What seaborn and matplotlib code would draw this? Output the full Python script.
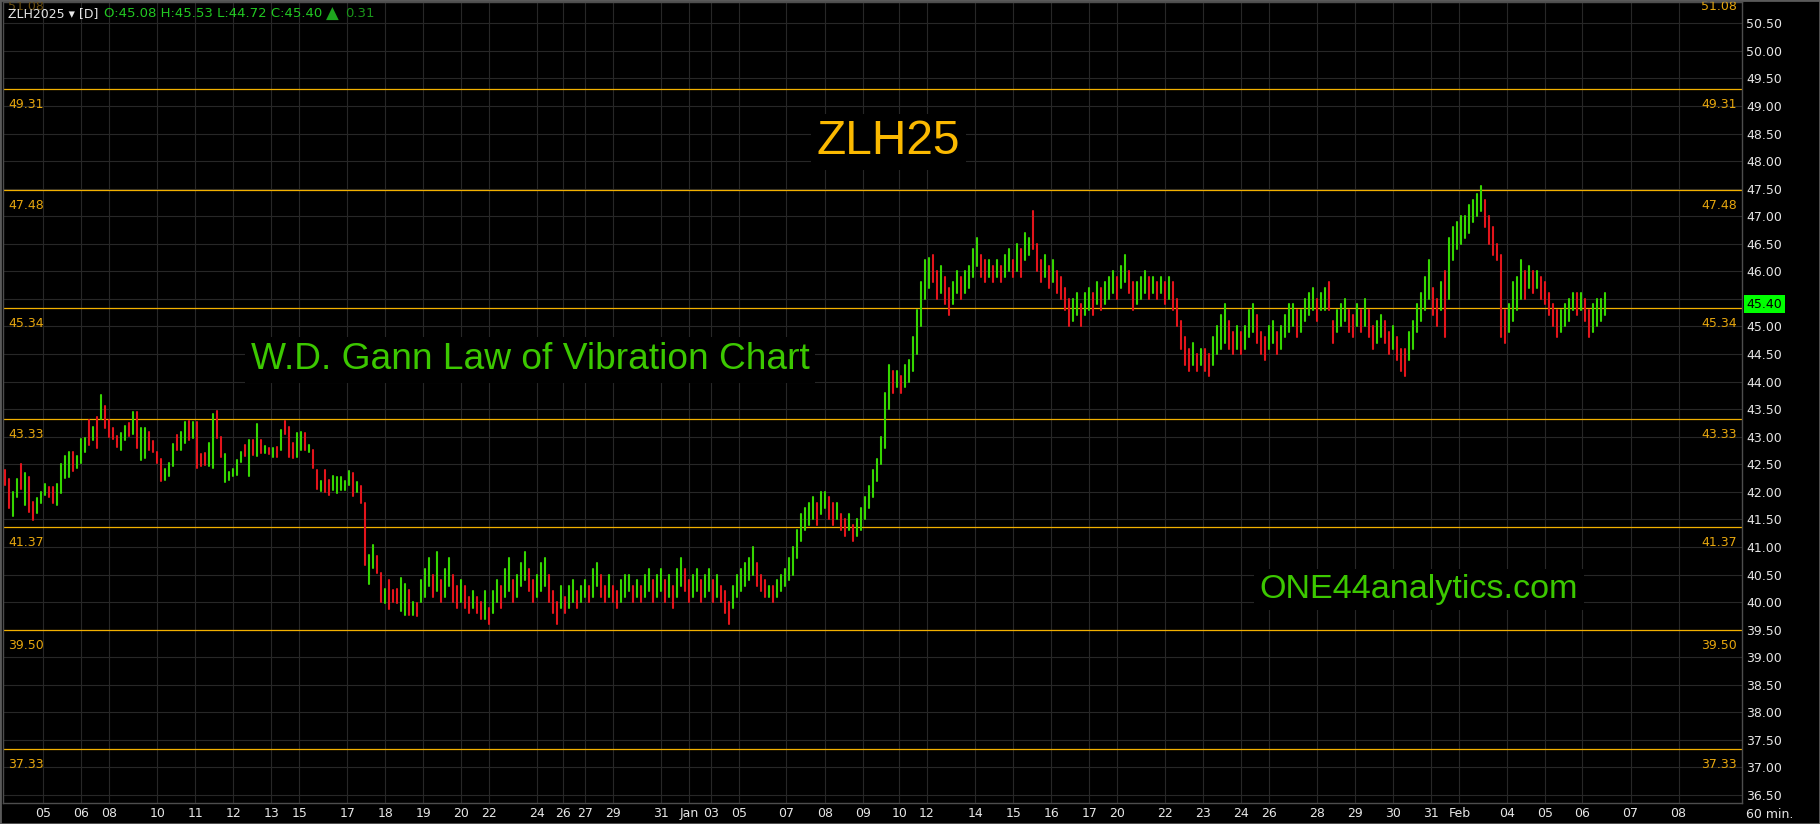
import numpy as np
import pandas as pd
import matplotlib
matplotlib.use("Agg")
import matplotlib.pyplot as plt
import matplotlib.transforms as mtrans
from matplotlib.patches import Rectangle
from matplotlib.ticker import FuncFormatter
import seaborn as sns

# 60 min bars of ZLH25 (two bars per slot), low / high / direction
bar_low = [
    42.12, 41.70, 41.57, 41.90, 42.06, 41.76, 41.64, 41.48, 41.62, 41.80,
    41.94, 41.91, 41.79, 41.76, 41.97, 42.25, 42.26, 42.37, 42.44, 42.52,
    42.73, 42.85, 42.94, 42.79, 43.33, 43.15, 43.00, 42.95, 42.82, 42.75,
    42.94, 43.01, 43.04, 42.79, 42.57, 42.61, 42.76, 42.73, 42.53, 42.19,
    42.22, 42.28, 42.46, 42.76, 42.76, 42.88, 42.94, 42.97, 42.44, 42.46,
    42.49, 42.47, 42.44, 42.97, 42.64, 42.17, 42.22, 42.28, 42.31, 42.55,
    42.65, 42.28, 42.67, 42.65, 42.71, 42.70, 42.69, 42.63, 42.64, 42.75,
    43.05, 42.64, 42.61, 42.63, 42.76, 42.76, 42.73, 42.43, 42.06, 42.02,
    42.00, 41.94, 42.03, 41.97, 42.03, 42.03, 42.12, 41.92, 42.00, 41.79,
    40.67, 40.33, 40.61, 40.52, 40.01, 39.99, 39.87, 40.01, 39.99, 39.83,
    39.77, 39.77, 39.77, 39.75, 40.0, 40.1, 40.3, 40.1, 40.2, 40.0,
    40.1, 40.3, 40.0, 39.9, 40.0, 39.9, 39.8, 39.9, 39.8, 39.7,
    39.7, 39.6, 39.8, 40.0, 39.9, 40.1, 40.2, 40.0, 40.1, 40.3,
    40.4, 40.2, 40.0, 40.1, 40.2, 40.3, 40.0, 39.8, 39.6, 39.9,
    39.8, 39.9, 40.0, 39.9, 40.0, 40.1, 40.0, 40.1, 40.3, 40.1,
    40.0, 40.1, 40.0, 39.9, 40.0, 40.1, 40.2, 40.0, 40.1, 40.0,
    40.1, 40.2, 40.0, 40.1, 40.2, 40.0, 40.1, 39.9, 40.1, 40.3,
    40.2, 40.0, 40.1, 40.2, 40.0, 40.1, 40.2, 40.0, 40.1, 40.0,
    39.8, 39.6, 39.9, 40.1, 40.2, 40.3, 40.4, 40.5, 40.3, 40.2,
    40.1, 40.1, 40.0, 40.1, 40.2, 40.3, 40.4, 40.5, 40.8, 41.1,
    41.3, 41.4, 41.5, 41.4, 41.6, 41.7, 41.5, 41.4, 41.5, 41.3,
    41.2, 41.3, 41.1, 41.2, 41.3, 41.5, 41.7, 41.9, 42.2, 42.5,
    42.8, 43.5, 43.8, 43.9, 43.8, 43.9, 44.0, 44.2, 44.5, 45.0,
    45.5, 45.7, 45.8, 45.5, 45.6, 45.4, 45.2, 45.4, 45.6, 45.5,
    45.6, 45.7, 45.9, 46.1, 45.9, 45.8, 45.9, 45.8, 45.9, 45.8,
    45.9, 46.0, 45.9, 46.0, 45.9, 46.2, 46.3, 46.4, 46.0, 45.8,
    45.9, 45.7, 45.8, 45.6, 45.5, 45.3, 45.0, 45.1, 45.2, 45.0,
    45.2, 45.3, 45.2, 45.4, 45.3, 45.4, 45.5, 45.6, 45.5, 45.7,
    45.8, 45.6, 45.3, 45.4, 45.5, 45.6, 45.5, 45.6, 45.5, 45.6,
    45.4, 45.5, 45.3, 45.0, 44.6, 44.3, 44.2, 44.3, 44.2, 44.3,
    44.2, 44.1, 44.3, 44.5, 44.6, 44.7, 44.6, 44.5, 44.6, 44.5,
    44.6, 44.8, 44.9, 44.7, 44.5, 44.4, 44.6, 44.7, 44.5, 44.6,
    44.8, 44.9, 45.0, 44.8, 44.9, 45.1, 45.2, 45.3, 45.1, 45.3,
    45.3, 45.3, 44.7, 44.9, 45.0, 45.1, 44.9, 44.8, 45.0, 44.9,
    45.0, 44.8, 44.6, 44.7, 44.8, 44.7, 44.5, 44.6, 44.4, 44.2,
    44.1, 44.4, 44.6, 44.9, 45.1, 45.3, 45.5, 45.2, 45.0, 45.3,
    44.8, 45.5, 46.2, 46.4, 46.5, 46.6, 46.7, 46.9, 47.0, 47.1,
    46.8, 46.5, 46.3, 46.2, 44.8, 44.7, 44.9, 45.1, 45.3, 45.5,
    45.5, 45.7, 45.6, 45.7, 45.5, 45.4, 45.2, 45.0, 44.8, 44.9,
    45.0, 45.1, 45.3, 45.2, 45.3, 45.1, 44.8, 44.9, 45.0, 45.1,
    45.2,
]
bar_high = [
    42.40, 42.23, 42.00, 42.23, 42.50, 42.35, 42.26, 41.82, 41.88, 42.00,
    42.15, 42.09, 42.08, 42.14, 42.50, 42.65, 42.73, 42.73, 42.65, 42.95,
    42.98, 43.30, 43.18, 43.36, 43.76, 43.56, 43.30, 43.15, 43.01, 43.07,
    43.19, 43.24, 43.44, 43.45, 43.15, 43.15, 43.09, 42.92, 42.73, 42.59,
    42.41, 42.53, 42.87, 43.03, 43.09, 43.27, 43.29, 43.26, 43.26, 42.69,
    42.71, 42.88, 43.41, 43.47, 42.99, 42.69, 42.36, 42.41, 42.58, 42.73,
    42.85, 42.94, 42.94, 43.23, 42.94, 42.83, 42.79, 42.80, 42.82, 43.12,
    43.29, 43.18, 42.88, 43.07, 43.09, 43.06, 42.85, 42.76, 42.40, 42.20,
    42.40, 42.22, 42.29, 42.26, 42.26, 42.20, 42.37, 42.34, 42.17, 42.11,
    41.80, 40.85, 41.04, 40.84, 40.52, 40.23, 40.40, 40.22, 40.23, 40.43,
    40.33, 40.22, 40.01, 39.98, 40.4, 40.6, 40.8, 40.5, 40.9, 40.4,
    40.6, 40.8, 40.5, 40.3, 40.4, 40.3, 40.1, 40.2, 40.1, 40.0,
    40.2, 39.9, 40.2, 40.4, 40.3, 40.6, 40.8, 40.4, 40.5, 40.7,
    40.9, 40.6, 40.4, 40.5, 40.7, 40.8, 40.5, 40.2, 40.0, 40.3,
    40.1, 40.3, 40.4, 40.2, 40.3, 40.4, 40.3, 40.6, 40.7, 40.5,
    40.3, 40.5, 40.3, 40.2, 40.4, 40.5, 40.5, 40.3, 40.4, 40.3,
    40.5, 40.6, 40.4, 40.5, 40.6, 40.4, 40.5, 40.3, 40.6, 40.8,
    40.6, 40.4, 40.5, 40.6, 40.4, 40.5, 40.6, 40.4, 40.5, 40.3,
    40.2, 40.0, 40.3, 40.5, 40.6, 40.7, 40.8, 41.0, 40.7, 40.5,
    40.4, 40.3, 40.3, 40.4, 40.5, 40.6, 40.8, 41.0, 41.3, 41.6,
    41.7, 41.8, 41.9, 41.8, 42.0, 42.0, 41.9, 41.8, 41.8, 41.6,
    41.5, 41.6, 41.4, 41.5, 41.7, 41.9, 42.1, 42.4, 42.6, 43.0,
    43.8, 44.3, 44.2, 44.2, 44.1, 44.3, 44.4, 44.8, 45.3, 45.8,
    46.2, 46.25, 46.3, 46.0, 46.1, 45.9, 45.7, 45.8, 46.0, 45.9,
    46.0, 46.1, 46.4, 46.6, 46.3, 46.2, 46.2, 46.1, 46.2, 46.1,
    46.3, 46.4, 46.2, 46.5, 46.4, 46.7, 46.6, 47.1, 46.5, 46.2,
    46.3, 46.1, 46.2, 46.0, 45.9, 45.7, 45.5, 45.5, 45.6, 45.4,
    45.6, 45.7, 45.6, 45.8, 45.7, 45.8, 45.9, 46.0, 45.9, 46.1,
    46.3, 46.0, 45.8, 45.8, 45.9, 46.0, 45.9, 45.9, 45.8, 45.9,
    45.8, 45.9, 45.8, 45.5, 45.1, 44.8, 44.6, 44.7, 44.5, 44.6,
    44.6, 44.5, 44.8, 45.0, 45.2, 45.4, 45.1, 44.9, 45.0, 44.9,
    45.0, 45.3, 45.4, 45.2, 44.9, 44.8, 45.0, 45.1, 44.9, 45.0,
    45.2, 45.4, 45.4, 45.3, 45.3, 45.5, 45.6, 45.7, 45.5, 45.6,
    45.7, 45.8, 45.1, 45.3, 45.4, 45.5, 45.3, 45.2, 45.4, 45.3,
    45.5, 45.3, 45.0, 45.1, 45.2, 45.1, 44.9, 45.0, 44.8, 44.6,
    44.6, 44.9, 45.1, 45.4, 45.6, 45.9, 46.2, 45.7, 45.5, 45.8,
    46.0, 46.6, 46.8, 46.9, 47.0, 47.0, 47.2, 47.3, 47.4, 47.55,
    47.3, 47.0, 46.8, 46.5, 46.3, 45.3, 45.4, 45.8, 45.9, 46.2,
    46.0, 46.1, 46.0, 46.0, 45.9, 45.8, 45.6, 45.4, 45.3, 45.3,
    45.4, 45.5, 45.6, 45.6, 45.6, 45.5, 45.3, 45.4, 45.5, 45.5,
    45.6,
]
bar_dir = (
    "rrggrgrrgg" "grrggggrgg" "grgrgrrrrg" "grgrggrrrr" "gggrggrgrr"
    "rggrrggggg" "rgrgrgrgrg" "rrrggrgrrg" "rrgggggrgr" "rggrrgrrrg"
    "grgr" "gggrgr"
    "ggrrgrrgrr" "grggrggrgg" "grrgggrrrg" "rggrggrggr" "rgrrgggrgr"
    "ggrggrgrgg" "rrggrggrgr" "rrggggggrr" "rgrggggggg" "gggrggrrgr"
    "rgrggggggg" "ggrgrggggg" "ggrrgrrggr" "ggggrrgrgr" "ggrgrggrrr"
    "grgrrrrggr" "ggrgrgggrg" "grrgggrgrg" "rgrrrrrgrg" "rrggggrrgr"
    "gggrrrggrg" "gggrggggrg" "grrgggrrgr" "grrggrrgrr" "rggggggrrg"
    "rggggggggg" "rrrrrrgggg" "rgrgrrrrrg" "gggrgrrggg" "g"
)

# day separators on the time axis, in bar slots
day_pos = [9.5, 19.1, 26.1, 38.1, 47.6, 57.1, 66.6, 73.6, 85.6, 95.1,
           104.6, 114.1, 121.1, 133.0, 139.5, 145.1, 152.0, 164.1, 171.0, 176.6,
           183.5, 195.2, 205.0, 214.5, 223.6, 230.5, 242.6, 252.1, 261.6, 271.1,
           278.1, 290.1, 299.6, 309.1, 316.1, 328.1, 337.6, 347.1, 356.6, 363.6,
           375.6, 385.1, 394.2, 406.4, 418.4]
day_labels = ["05", "06", "08", "10", "11", "12", "13", "15", "17", "18",
              "19", "20", "22", "24", "26", "27", "29", "31", "Jan", "03",
              "05", "07", "08", "09", "10", "12", "14", "15", "16", "17",
              "20", "22", "23", "24", "26", "28", "29", "30", "31", "Feb",
              "04", "05", "06", "07", "08"]

gann_levels = [51.08, 49.31, 47.48, 45.34, 43.33, 41.37, 39.50, 37.33]
last_price = 45.40
ohlc_text = "O:45.08 H:45.53 L:44.72 C:45.40"
change_text = "0.31"

W, H = 1820, 824
GREEN = "#35d600"
RED = "#e3141b"
ORANGE = "#f2b000"
LABEL_OR = "#e6a60e"
GRID = "#272727"
TXT = "#e6e6e6"

sns.set_style("dark", rc={"axes.facecolor": "black", "figure.facecolor": "black",
                          "axes.edgecolor": "#505050", "grid.color": GRID})
plt.rcParams["font.family"] = ["DejaVu Sans"]

fig = plt.figure(figsize=(W / 100, H / 100), dpi=100)
ax = fig.add_axes([3 / W, 21 / H, 1739 / W, 801 / H])


def px(x, y):
    return x / W, 1 - y / H


n = len(bar_low)
bars = pd.DataFrame({"bar": np.arange(n), "low": bar_low, "high": bar_high,
                     "dir": list(bar_dir)})
long = bars.melt(id_vars=["bar", "dir"], value_vars=["low", "high"], value_name="price")
sns.lineplot(data=long, x="bar", y="price", hue="dir", units="bar", estimator=None,
             palette={"g": GREEN, "r": RED}, legend=False, linewidth=1.5, sort=False,
             ax=ax, zorder=3)

ax.set_xlim(-0.5, 434.25)
ax.set_ylim(36.355, 50.886)
ax.set_xticks(day_pos, day_labels)
ax.set_yticks(np.arange(36.5, 50.51, 0.5))
# the last price marker sits on top of the nearest scale label
ax.yaxis.set_major_formatter(
    FuncFormatter(lambda v, p: "" if abs(v - last_price) < 0.15 else f"{v:.2f}"))
ax.yaxis.tick_right()
ax.set_xlabel("")
ax.set_ylabel("")
ax.set_axisbelow(True)
ax.grid(True, color=GRID, lw=0.8)
ax.tick_params(axis="y", length=0, pad=3, labelcolor=TXT, labelsize=9)
ax.tick_params(axis="x", length=0, pad=3, labelcolor=TXT, labelsize=9)
for s in ax.spines.values():
    s.set_color("#4d4d4d")
    s.set_linewidth(1)

# gann levels with their labels under the line on both sides
lvl_tr = mtrans.blended_transform_factory(ax.transAxes, ax.transData) + \
    mtrans.ScaledTranslation(0, -19 / 100, fig.dpi_scale_trans)
for lv in gann_levels:
    ax.axhline(lv, color=ORANGE, lw=0.9, zorder=2)
    left_col = "#6a4e10" if lv > 50.9 else LABEL_OR
    ax.text(5 / 1739, lv, f"{lv:.2f}", transform=lvl_tr, color=left_col, fontsize=9,
            ha="left", va="baseline", clip_on=False)
    ax.text(1734 / 1739, lv, f"{lv:.2f}", transform=lvl_tr, color=LABEL_OR, fontsize=9,
            ha="right", va="baseline", clip_on=False)

# last price marker on the scale
ax.annotate(f"{last_price:.2f}", xy=(1, last_price), xycoords=("axes fraction", "data"),
            xytext=(4.5, 0), textcoords="offset pixels", ha="left", va="center",
            fontsize=9, color="black", annotation_clip=False,
            bbox=dict(boxstyle="square,pad=0.2", fc="#00ff00", ec="none"))

# header
fig.text(*px(7.5, 13.5), "ZLH2025 \u25be [D]", color=TXT, fontsize=9, va="center")
fig.text(*px(104, 13.5), ohlc_text, color="#22c822", fontsize=9.5, va="center")
fig.text(*px(326, 13.5), "\u25b2", color="#1ea51e", fontsize=12, va="center")
fig.text(*px(345, 13.5), change_text, color="#1a961a", fontsize=9.5, va="center")
fig.text(*px(1746, 814), "60 min.", color=TXT, fontsize=9, va="center")

big = ["Liberation Sans", "DejaVu Sans"]
box = dict(facecolor="black", edgecolor="none", pad=4)
fig.text(*px(888, 154.5), "ZLH25", color="#fbb900", fontsize=34.5, family=big,
         ha="center", va="baseline", bbox=box, zorder=4)
fig.text(*px(530, 369.5), "W.D. Gann Law of Vibration Chart", color="#3cc800",
         fontsize=26.7, family=big, ha="center", va="baseline", bbox=box, zorder=4)
fig.text(*px(1419, 598), "ONE44analytics.com", color="#3cc800", fontsize=24.6,
         family=big, ha="center", va="baseline", bbox=box, zorder=4)

fig.add_artist(Rectangle((0, 0), 1, 1, transform=fig.transFigure, fill=False,
                         ec="#5a5a5a", lw=2))

fig.savefig("out.png", dpi=100, facecolor="black")
